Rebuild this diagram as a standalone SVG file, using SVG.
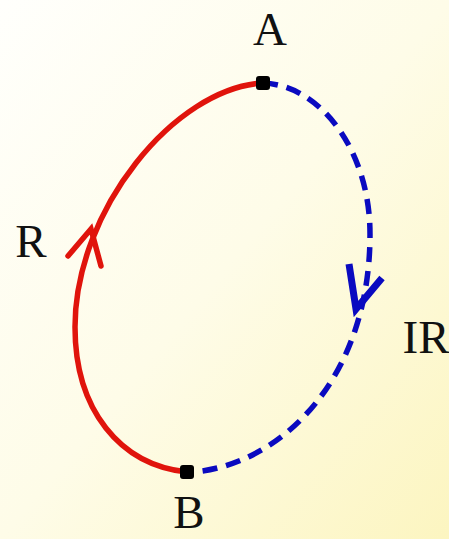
<svg xmlns="http://www.w3.org/2000/svg" width="449" height="539" viewBox="0 0 449 539">
<defs>
<linearGradient id="bg" x1="0" y1="0" x2="1" y2="1">
<stop offset="0" stop-color="#fffffc"/>
<stop offset="0.5" stop-color="#fefce8"/>
<stop offset="1" stop-color="#fcf5c0"/>
</linearGradient>
<style>
.lbl{font-family:"Liberation Serif","Times New Roman",serif;font-size:47px;fill:#111}
.rev{fill:none;stroke:#e0140c;stroke-width:5.5;stroke-linecap:round;stroke-linejoin:miter}
.irr{fill:none;stroke:#0a0ac0;stroke-width:5.5;stroke-dasharray:15 9}
.irrh{fill:none;stroke:#0a0ac0;stroke-width:7;stroke-linejoin:miter;stroke-linecap:butt}
.pt{fill:#000}
</style>
</defs>
<rect width="449" height="539" fill="url(#bg)"/>
<g id="connectors">
<path class="rev" d="M187,472 C120,465 75,410 75,327 C75,210 175,88 263,83"/>
<path class="rev" d="M68,256 L91,229 L101,266"/>
<path class="irr" d="M263,83 C320,85 370,150 370,234 C370,380 280,465 193,472"/>
<path class="irrh" d="M349,264 L356,309 L382,278"/>
</g>
<g id="A">
<rect class="pt" x="256" y="76" width="14" height="14" rx="3"/>
<text class="lbl" x="270" y="45" text-anchor="middle">A</text>
</g>
<g id="B">
<rect class="pt" x="180" y="465" width="14" height="14" rx="3"/>
<text class="lbl" x="189" y="528" text-anchor="middle">B</text>
</g>
<g id="R">
<text class="lbl" x="31" y="257" text-anchor="middle">R</text>
</g>
<g id="IR">
<text class="lbl" x="426" y="353" text-anchor="middle">IR</text>
</g>
</svg>
